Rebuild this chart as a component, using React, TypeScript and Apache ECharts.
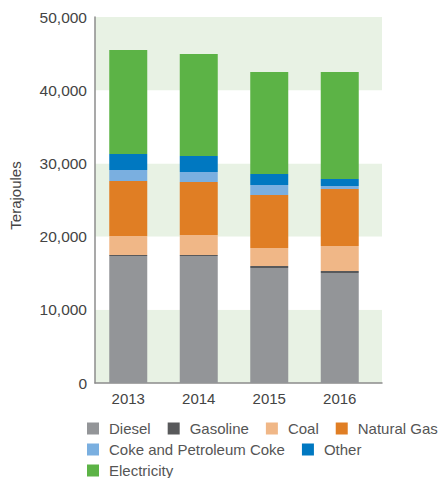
import React, { useEffect, useRef } from "react";
import * as echarts from "echarts";

const years = ["2013", "2014", "2015", "2016"];
const yTicks = [0, 10000, 20000, 30000, 40000, 50000];
const diesel = [17350, 17350, 15710, 15030];
const gasoline = [120, 120, 270, 270];
const coal = [2610, 2750, 2460, 3420];
const naturalGas = [7520, 7240, 7240, 7780];
const coke = [1500, 1370, 1370, 410];
const other = [2180, 2180, 1500, 960];
const electricity = [14220, 13940, 13940, 14620];

const seriesDefs = [
  { name: "Diesel", data: diesel, color: "#939598" },
  { name: "Gasoline", data: gasoline, color: "#58595b" },
  { name: "Coal", data: coal, color: "#f0b787" },
  { name: "Natural Gas", data: naturalGas, color: "#e07e24" },
  { name: "Coke and Petroleum Coke", data: coke, color: "#7aafe0" },
  { name: "Other", data: other, color: "#0078c1" },
  { name: "Electricity", data: electricity, color: "#5cb346" },
];

const legendRows = [
  ["Diesel", "Gasoline", "Coal", "Natural Gas"],
  ["Coke and Petroleum Coke", "Other"],
  ["Electricity"],
];

const FONT = "'Liberation Sans', Arial, sans-serif";

export default function App() {
  const ref = useRef<HTMLDivElement>(null);
  useEffect(() => {
    if (!ref.current) return;
    const chart = echarts.init(ref.current, null, { renderer: "svg" });
    const legendTops = [421, 442, 463];
    chart.setOption({
      animation: false,
      textStyle: { fontFamily: FONT },
      grid: [
        { left: 90, right: 57, top: 17, bottom: 95 },
        { left: 93, right: 64, top: 17, bottom: 95 },
      ],
      legend: legendRows.map((row, i) => ({
        data: row,
        left: 87,
        top: legendTops[i],
        width: 400,
        itemWidth: 12,
        itemHeight: 12,
        itemGap: 17,
        icon: "rect",
        padding: 0,
        textStyle: {
          fontSize: 15,
          color: "#555",
          fontFamily: FONT,
          padding: [0, 0, 0, 5],
        },
      })),
      xAxis: [
        {
          gridIndex: 0,
          type: "category",
          data: [""],
          axisLine: { show: true, lineStyle: { color: "#8c8c8c", width: 1.5 } },
          axisTick: { show: false },
          axisLabel: { show: false },
        },
        {
          gridIndex: 1,
          type: "category",
          data: years,
          axisLine: { show: false },
          axisTick: { show: false },
          axisLabel: { color: "#444", fontSize: 15, margin: 8, fontFamily: FONT },
        },
      ],
      yAxis: [
        {
          gridIndex: 0,
          type: "value",
          min: yTicks[0],
          max: yTicks[yTicks.length - 1],
          interval: 10000,
          name: "Terajoules",
          nameLocation: "middle",
          nameGap: 72,
          nameTextStyle: {
            color: "#444",
            fontSize: 15,
            fontFamily: FONT,
            padding: [0, 0, 0, 9],
          },
          axisLine: { show: true, lineStyle: { color: "#8c8c8c", width: 1.5 } },
          axisTick: { show: false },
          splitLine: { show: false },
          splitArea: { show: true, areaStyle: { color: ["#e8f2e4", "#ffffff"] } },
          axisLabel: {
            color: "#444",
            fontSize: 15.5,
            margin: 8,
            fontFamily: FONT,
            formatter: (v: number) => v.toLocaleString("en-US"),
          },
        },
        {
          gridIndex: 1,
          type: "value",
          min: yTicks[0],
          max: yTicks[yTicks.length - 1],
          show: false,
        },
      ],
      series: seriesDefs.map((s) => ({
        name: s.name,
        type: "bar",
        stack: "total",
        xAxisIndex: 1,
        yAxisIndex: 1,
        barWidth: 38,
        data: s.data,
        itemStyle: { color: s.color },
      })),
    });
    return () => chart.dispose();
  }, []);
  return <div ref={ref} style={{ width: 439, height: 478, position: "absolute", left: 0, top: 0 }} />;
}
